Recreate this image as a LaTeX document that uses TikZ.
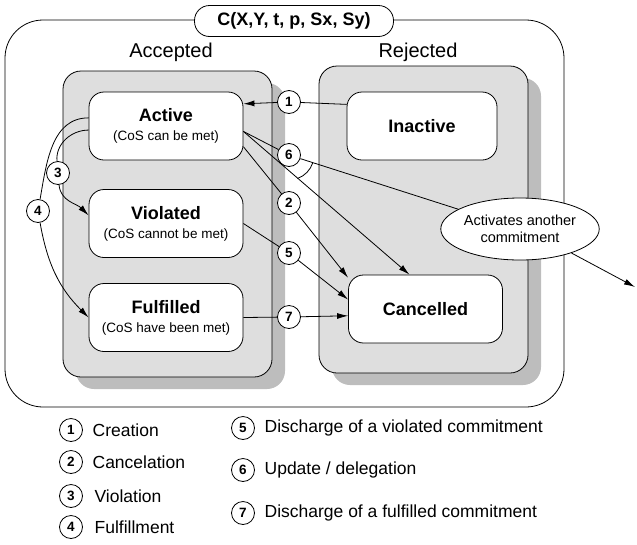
\documentclass[tikz,border=0pt]{standalone}
\usepackage{fontspec}
\setmainfont{Liberation Sans}
\usetikzlibrary{positioning, arrows.meta, shapes.geometric, shadows}

\definecolor{panelgray}{gray}{0.87}
\definecolor{shadowgray}{gray}{0.74}

\newcommand{\statename}[1]{{\fontsize{18}{20}\selectfont\bfseries #1}}
\newcommand{\cosnote}[1]{{\fontsize{13.5}{19}\selectfont #1}}

\begin{document}
\begin{tikzpicture}[x=1pt, y=1pt, on grid, line width=0.8pt,
        >={Latex[length=11pt, width=6pt]},
        state/.style={draw, fill=white, rounded corners=15pt, minimum width=154pt,
            minimum height=68pt, align=center, inner sep=2pt,
            font=\fontsize{13.5}{19}\selectfont},
        panel/.style={draw, fill=panelgray, rounded corners=18pt, minimum width=209pt,
            minimum height=306pt,
            drop shadow={shadow xshift=13pt, shadow yshift=-12pt, fill=shadowgray, opacity=1}},
        num/.style={draw, circle, fill=white, minimum size=23pt, inner sep=0pt,
            font=\fontsize{13.5}{14}\selectfont\bfseries},
        legtext/.style={anchor=west, font=\fontsize{17.5}{20}\selectfont}]
                \useasboundingbox (0,0) rectangle (637,-544);

                % FRAME
                \node[draw, rounded corners=38pt, minimum width=559pt, minimum height=387pt] (frame) at (284.5,-213.5) {};
                \node[draw, fill=white, rounded corners=15pt, minimum width=199pt, minimum height=31pt,
                    font=\fontsize{18}{20}\selectfont\bfseries] (title) at (294,-21) {C(X,Y, t, p, Sx, Sy)};
                \node[font=\fontsize{20}{22}\selectfont] (acclabel) at (171,-52) {Accepted};
                \node[font=\fontsize{20}{22}\selectfont] (rejlabel) at (418,-52) {Rejected};

                % PANELS
                \node[panel] (accepted) at (167.5,-224) {};
                \node[panel, minimum height=307pt] (rejected) at (423.5,-219.5) {};

                % STATES
                \node[state] (active) at (166,-126) {\statename{Active}\\\cosnote{(CoS can be met)}};
                \node[state] (violated) [below=97.5pt of active] {\statename{Violated}\\\cosnote{(CoS cannot be met)}};
                \node[state] (fulfilled) [below=94pt of violated] {\statename{Fulfilled}\\\cosnote{(CoS have been met)}};
                \node[state, minimum width=150pt] (inactive) [right=256pt of active] {\statename{Inactive}};
                \node[state] (cancelled) at (425.5,-309) {\statename{Cancelled}};
                \node[draw, ellipse, fill=white, minimum width=155pt, minimum height=62pt, inner sep=0pt,
                    align=center, font=\fontsize{14.5}{16.5}\selectfont] (another) at (520,-229) {Activates another\\commitment};
                \coordinate (exit) at (635,-287);

                % TRANSITION NUMBERS
                \node[num] (c1) at (289,-102) {1};
                \node[num] (c6) at (289,-155) {6};
                \node[num] (c2) at (289,-203) {2};
                \node[num] (c5) at (289,-253) {5};
                \node[num] (c7) at (289,-317) {7};
                \node[num] (c3) at (58,-173) {3};
                \node[num] (c4) at (38,-211) {4};

                % TRANSITIONS
                \path[->]
                    (inactive.164) edge[-] (c1)
                    (c1) edge (active.16)
                    (active.-4) edge[-] (c6)
                    (c6) edge[-] (another)
                    (active.-4) edge (cancelled.115)
                    (active.-15) edge[-] (c2)
                    (c2) edge (cancelled.158)
                    (violated.east) edge[-] (c5)
                    (c5) edge (cancelled.173)
                    (fulfilled.east) edge[-] (c7)
                    (c7) edge (cancelled.185)
                    (active.174) edge[-, out=180, in=80] (c4)
                    (c4) edge[out=-80, in=135] (fulfilled.west)
                    (active.183) edge[-, out=180, in=95] (c3)
                    (c3) edge[out=-85, in=135] (violated.174)
                    (another.-25) edge (exit);
                \draw ([shift={(-18:25pt)}]c6.center) arc[start angle=-18, end angle=-70, radius=25pt];

                % LEGEND
                \node[num] (k1) at (71,-430) {1};
                \node[legtext] (k1text) at ([xshift=6pt]k1.east) {Creation};
                \node[num] (k2) at (71,-462) {2};
                \node[legtext] (k2text) at ([xshift=6pt]k2.east) {Cancelation};
                \node[num] (k3) at (71,-496) {3};
                \node[legtext] (k3text) at ([xshift=8pt]k3.east) {Violation};
                \node[num] (k4) at (71,-527) {4};
                \node[legtext] (k4text) at ([xshift=8pt]k4.east) {Fulfillment};
                \node[num] (k5) at (243,-428) {5};
                \node[legtext] (k5text) at ([xshift=6pt]k5.east) {Discharge of a violated commitment};
                \node[num] (k6) at (243,-470) {6};
                \node[legtext] (k6text) at ([xshift=6pt]k6.east) {Update / delegation};
                \node[num] (k7) at (243,-513) {7};
                \node[legtext] (k7text) at ([xshift=6pt]k7.east) {Discharge of a fulfilled commitment};
            
            \end{tikzpicture}
\end{document}
